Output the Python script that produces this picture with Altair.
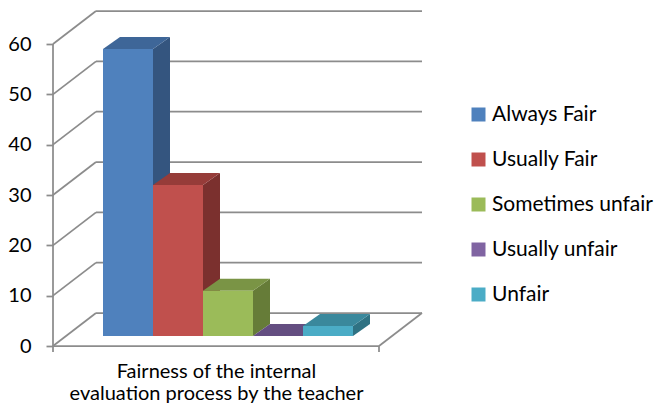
import altair as alt
import pandas as pd

# ---- data ----
categories = ["Always Fair", "Usually Fair", "Sometimes unfair", "Usually unfair", "Unfair"]
values = [57, 30, 9, 0, 2]
front_colors = ["#4F81BD", "#C0504D", "#9BBB59", "#8064A2", "#4BACC6"]
top_colors = ["#3E6698", "#963C39", "#7A9445", "#644E81", "#3A889C"]
side_colors = ["#34557F", "#7B302E", "#667C38", "#553F6E", "#2F7283"]
y_ticks = [0, 10, 20, 30, 40, 50, 60]
x_title = ["Fairness of the internal", "evaluation process by the teacher"]

# ---- 3-D box geometry (x in pixel-like units, y in value units) ----
PX_PER_UNIT = 302 / 60
W = 369
H = 336
Y_MAX = H / PX_PER_UNIT
DEPTH_X = 43
DEPTH_Y = 33 / PX_PER_UNIT
FLOOR_W = 326
BAR_W = 50
BAR_X0 = 50
BAR_BASE = 10 / PX_PER_UNIT
BAR_DX = 17
BAR_DY = 12 / PX_PER_UNIT
TICK_LEN = 6 / PX_PER_UNIT
GRID = "#8C8C8C"
FONT = "Lato"

# structural lines (walls and floor)
lines = []
for t in y_ticks:
    lines.append(dict(x=DEPTH_X, y=t + DEPTH_Y, x2=W, y2=t + DEPTH_Y))   # back wall
    lines.append(dict(x=0, y=t, x2=DEPTH_X, y2=t + DEPTH_Y))             # left wall
lines.append(dict(x=W, y=DEPTH_Y, x2=FLOOR_W, y2=0))                     # floor right edge
lines.append(dict(x=0, y=0, x2=FLOOR_W, y2=0))                           # floor front edge
lines.append(dict(x=FLOOR_W, y=0, x2=FLOOR_W, y2=-TICK_LEN))            # tick
lines.append(dict(x=0, y=-TICK_LEN, x2=0, y2=y_ticks[-1]))              # front axis line
lines_df = pd.DataFrame(lines)

front_rows, side_rows, top_rows = [], [], []
for i, (c, v) in enumerate(zip(categories, values)):
    xl = BAR_X0 + i * BAR_W
    xr = xl + BAR_W
    top = BAR_BASE + v
    front_rows.append(dict(cat=c, x=xl, x2=xr, y=BAR_BASE, y2=top))
    side_rows.append(dict(cat=c, col=side_colors[i], x=xr, lo=BAR_BASE, hi=top))
    side_rows.append(dict(cat=c, col=side_colors[i], x=xr + BAR_DX,
                          lo=BAR_BASE + BAR_DY, hi=top + BAR_DY))
    top_rows.append(dict(cat=c, col=top_colors[i], y=top, xa=xl, xb=xr))
    top_rows.append(dict(cat=c, col=top_colors[i], y=top + BAR_DY,
                         xa=xl + BAR_DX, xb=xr + BAR_DX))
front_df = pd.DataFrame(front_rows)
side_df = pd.DataFrame(side_rows)
top_df = pd.DataFrame(top_rows)

xscale = alt.Scale(domain=[0, W], nice=False, zero=False)
yscale = alt.Scale(domain=[0, Y_MAX], nice=False, zero=False)
xaxis = alt.Axis(domain=False, ticks=False, labels=False, grid=False,
                 title=x_title, titleX=FLOOR_W / 2, titleY=31,
                 titleAlign="center", titleAnchor="start", titleBaseline="alphabetic",
                 titleFontSize=20, titleFontWeight="normal", titleFont=FONT,
                 titleColor="#000000", titleLineHeight=22)
yaxis = alt.Axis(values=y_ticks, domain=False, grid=False, tickSize=7,
                 tickColor=GRID, tickWidth=1.75, labelFontSize=20, labelFont=FONT,
                 labelColor="#000000", labelPadding=15, title=None)

grid = alt.Chart(lines_df).mark_rule(color=GRID, strokeWidth=1.75).encode(
    x=alt.X("x:Q", scale=xscale, axis=xaxis),
    x2="x2:Q",
    y=alt.Y("y:Q", scale=yscale, axis=yaxis),
    y2="y2:Q",
)

sides = alt.Chart(side_df).mark_area(orient="vertical", opacity=1).encode(
    x=alt.X("x:Q", scale=xscale, axis=xaxis),
    y=alt.Y("lo:Q", scale=yscale, axis=yaxis, stack=None),
    y2="hi:Q",
    detail="cat:N",
    fill=alt.Fill("col:N", scale=None),
)

tops = alt.Chart(top_df).mark_area(orient="horizontal", opacity=1).encode(
    y=alt.Y("y:Q", scale=yscale, axis=yaxis),
    x=alt.X("xa:Q", scale=xscale, axis=xaxis, stack=None),
    x2="xb:Q",
    detail="cat:N",
    fill=alt.Fill("col:N", scale=None),
)

fronts = alt.Chart(front_df).mark_rect().encode(
    x=alt.X("x:Q", scale=xscale, axis=xaxis),
    x2="x2:Q",
    y=alt.Y("y:Q", scale=yscale, axis=yaxis),
    y2="y2:Q",
    color=alt.Color(
        "cat:N",
        scale=alt.Scale(domain=categories, range=front_colors),
        sort=categories,
        legend=alt.Legend(
            title=None, orient="none", legendX=415, legendY=94,
            symbolType="square", symbolSize=196, symbolStrokeWidth=0,
            labelFontSize=21, labelFont=FONT, labelColor="#000000",
            labelOffset=3, labelLimit=0, rowPadding=23, padding=0,
        ),
    ),
)

chart = alt.layer(grid, sides, tops, fronts).properties(
    width=W, height=H,
    autosize=alt.AutoSizeParams(type="none"),
    padding={"left": 45, "top": 2, "right": 236, "bottom": 59},
    background="#FFFFFF",
).configure_view(stroke=None)

chart.save("out.html", embed_options={"renderer": "svg", "actions": False})
